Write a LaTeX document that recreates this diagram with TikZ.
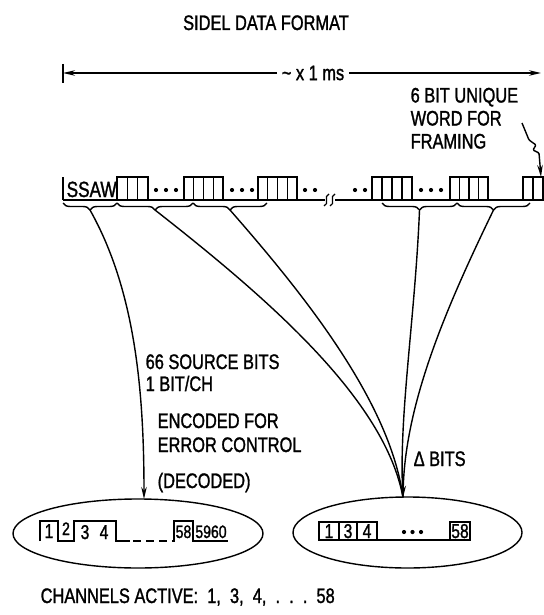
\documentclass[tikz,border=0pt]{standalone}
\usepackage{fontspec}
\setmainfont{Liberation Sans}[FakeStretch=0.78,FakeBold=1.3]
\usetikzlibrary{arrows.meta,decorations.pathreplacing,shapes.geometric}
\begin{document}
\begin{tikzpicture}[x=1pt,y=-1pt,line width=1.4pt,
  lbl/.style={font=\fontsize{21}{23}\selectfont,inner sep=0pt},
  dig/.style={font=\fontsize{20}{22}\selectfont,inner sep=0pt},
  arr/.style={-{Stealth[length=12pt,width=5.5pt]}},
  brc/.style={decorate,decoration={brace,mirror,amplitude=7pt}},
  oval/.style={draw,ellipse,inner sep=0pt}]
\useasboundingbox (0,0) rectangle (543,615);

% title
\node[lbl,anchor=base] (title) at (266,30) {SIDEL DATA FORMAT};

% time span arrow
\node[lbl] (ms) at (313,73) {\textasciitilde\ x 1 ms};
\coordinate (lbar) at (63,73);
\coordinate (rend) at (541,73);
\draw (63,64) -- (63,83);
\draw[arr] (ms.west) ++(-4,0) -- (lbar);
\draw[arr] (ms.east) ++(4,0) -- (rend);

% framing label
\node[lbl,anchor=base west] (fw1) at (410,102.5) {6 BIT UNIQUE};
\node[lbl,anchor=base west] (fw2) at (410,125.5) {WORD FOR};
\node[lbl,anchor=base west] (fw3) at (410,148.5) {FRAMING};
\coordinate (sq0) at (522,123);
\coordinate (sq1) at (541,177);
\draw[arr,rounded corners=1pt] (sq0) -- (529,140) -- (536,145) -- (533,150) -- (539,153) -- (sq1);

% frame row
\draw (63,177) -- (63,200);
\node[lbl,anchor=base west,font=\fontsize{22}{24}\selectfont] (ssaw) at (66,197) {SSAW};
\draw (63,200) -- (325,200);
\draw (335,200) -- (543,200);
\draw[line width=1.1pt] (324,206) .. controls (330,204) and (323,196) .. (329,194);
\draw[line width=1.1pt] (330,206) .. controls (336,204) and (329,196) .. (335,194);
\foreach \s/\n/\w in {117/3/10.33,184/4/9.75,258/4/9.75,372/4/10,450/4/9.5,523/2/10}{
  \foreach \i in {1,...,\n}{
    \draw ({\s+\w*(\i-1)},177) rectangle ({\s+\w*\i},200);
  }
}
\foreach \x in {156,166,176,232,242,252,305,315,355,365,421,431,441}{
  \fill (\x,190) circle (2.1pt);
}

% braces
\draw[brc] (63,203) -- (117,203);
\draw[brc] (117,203) -- (193,203);
\draw[brc] (193,203) -- (267,203);
\draw[brc] (382,203) -- (457,203);
\draw[brc] (457,203) -- (530,203);
\coordinate (b1) at (90,210);
\coordinate (b2) at (155,210);
\coordinate (b3) at (230,210);
\coordinate (b4) at (419.5,210);
\coordinate (b5) at (493.5,210);

% ellipses
\node[oval,minimum width=250pt,minimum height=69pt] (L) at (138,533.5) {};
\node[oval,minimum width=229pt,minimum height=71pt] (R) at (407.5,532.5) {};
\coordinate (tL) at (144,499);
\coordinate (tR) at (403,497.5);

% connectors
\draw[arr] (b1) .. controls (135,290) and (144,390) .. (tL);
\draw (b2) .. controls (270,300) and (385,400) .. (tR);
\draw (b3) .. controls (300,290) and (390,400) .. (tR);
\draw (b4) .. controls (415,320) and (398,420) .. (tR);
\draw[arr] (b5) .. controls (450,300) and (405,400) .. (tR);

% middle labels
\node[lbl,anchor=base west] (s1) at (145,369) {66 SOURCE BITS};
\node[lbl,anchor=base west] (s2) at (145,391) {1 BIT/CH};
\node[lbl,anchor=base west] (e1) at (157,428) {ENCODED FOR};
\node[lbl,anchor=base west] (e2) at (157,452) {ERROR CONTROL};
\node[lbl,anchor=base west] (dc) at (157,488) {(DECODED)};
\node[lbl,anchor=base west] (db) at (413,466) {Δ BITS};

% left ellipse content
\draw (40,541) -- (40,521) -- (58,521) -- (58,541) -- (74,541) -- (74,521)
      -- (116,521) -- (116,541) -- (130,541);
\draw[dash pattern=on 8pt off 5pt] (133,541) -- (172,541);
\draw (172,541) -- (174,541) -- (174,521) -- (193,521) -- (193,541) -- (228,541);
\node[dig,anchor=base] (d1) at (49,538) {1};
\node[dig,anchor=base,font=\fontsize{18}{20}\selectfont] (d2) at (66,535) {2};
\node[dig,anchor=base] (d3) at (85,539) {3};
\node[dig,anchor=base] (d4) at (104,539) {4};
\node[dig,anchor=base,font=\fontsize{18}{20}\selectfont] (d58) at (183.5,538) {58};
\node[dig,anchor=base,font=\fontsize{18}{20}\selectfont] (d5960) at (211,538) {5960};

% right ellipse content
\draw (319,522) rectangle (339,540);
\draw (339,522) rectangle (357,540);
\draw (357,522) rectangle (377,540);
\draw (377,540) -- (450,540);
\draw (450,522) rectangle (470,540);
\node[dig,anchor=base] (r1) at (329,538) {1};
\node[dig,anchor=base] (r3) at (348,538) {3};
\node[dig,anchor=base] (r4) at (367,538) {4};
\node[dig,anchor=base] (r58) at (460,538) {58};
\foreach \x in {404,412.5,421}{ \fill (\x,532) circle (2.1pt); }

% bottom label
\node[lbl,anchor=base west] (ch) at (40,603) {CHANNELS ACTIVE:\ \ 1,\ \ 3,\ \ 4,\ \ .\ \ .\ \ .\ \ 58};
\end{tikzpicture}
\end{document}
